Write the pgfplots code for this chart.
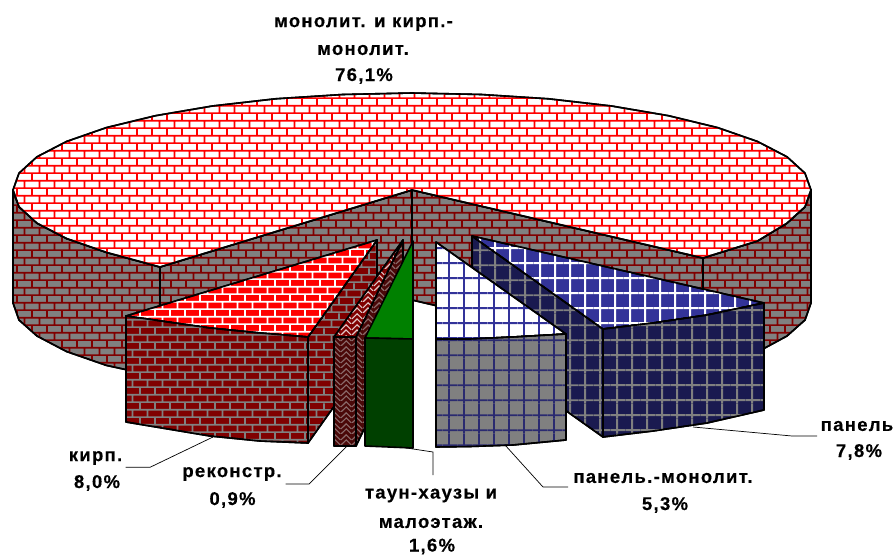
\documentclass[border=0pt]{standalone}
\usepackage{fontspec}
\setmainfont{Liberation Sans}
\newfontfamily\lab[LetterSpace=7,BoldFont={Liberation Sans Bold},BoldFeatures={FakeBold=0.4}]{Liberation Sans}
\usepackage{pgfplots}
\pgfplotsset{compat=1.18}
\usetikzlibrary{patterns}
\pgfdeclarepatternformonly{mybricks}{\pgfqpoint{0pt}{0pt}}{\pgfqpoint{15.42pt}{15.34pt}}{\pgfqpoint{15.42pt}{15.34pt}}{%
  \pgfsetlinewidth{1.8pt}%
  \pgfpathmoveto{\pgfqpoint{0pt}{0.8pt}}\pgfpathlineto{\pgfqpoint{15.42pt}{0.8pt}}%
  \pgfpathmoveto{\pgfqpoint{0pt}{8.47pt}}\pgfpathlineto{\pgfqpoint{15.42pt}{8.47pt}}%
  \pgfpathmoveto{\pgfqpoint{9.77pt}{0.8pt}}\pgfpathlineto{\pgfqpoint{9.77pt}{8.47pt}}%
  \pgfpathmoveto{\pgfqpoint{2.06pt}{8.47pt}}\pgfpathlineto{\pgfqpoint{2.06pt}{15.34pt}}%
  \pgfpathmoveto{\pgfqpoint{2.06pt}{0pt}}\pgfpathlineto{\pgfqpoint{2.06pt}{0.8pt}}%
  \pgfusepath{stroke}}
\pgfdeclarepatternformonly{mygrid}{\pgfqpoint{0pt}{0pt}}{\pgfqpoint{15.3pt}{15.3pt}}{\pgfqpoint{15.3pt}{15.3pt}}{%
  \pgfsetlinewidth{2pt}%
  \pgfpathmoveto{\pgfqpoint{6.3pt}{0pt}}\pgfpathlineto{\pgfqpoint{6.3pt}{15.3pt}}%
  \pgfpathmoveto{\pgfqpoint{0pt}{2.9pt}}\pgfpathlineto{\pgfqpoint{15.3pt}{2.9pt}}%
  \pgfusepath{stroke}}
\pgfdeclarepatternformonly{myweave}{\pgfqpoint{0pt}{0pt}}{\pgfqpoint{11pt}{11pt}}{\pgfqpoint{11pt}{11pt}}{%
  \pgfsetlinewidth{1.2pt}%
  \pgfpathmoveto{\pgfqpoint{0pt}{0pt}}\pgfpathlineto{\pgfqpoint{5.5pt}{5.5pt}}\pgfpathlineto{\pgfqpoint{11pt}{0pt}}%
  \pgfpathmoveto{\pgfqpoint{0pt}{5.5pt}}\pgfpathlineto{\pgfqpoint{5.5pt}{11pt}}\pgfpathlineto{\pgfqpoint{11pt}{5.5pt}}%
  \pgfusepath{stroke}}
\definecolor{gr}{HTML}{808080}
\definecolor{dred}{HTML}{800000}
\definecolor{brightred}{HTML}{FF0000}
\definecolor{ngreen}{HTML}{008000}
\definecolor{dgreen}{HTML}{004000}
\definecolor{blu}{HTML}{333399}
\definecolor{navy}{HTML}{1A1A50}
\definecolor{gridblue}{HTML}{2A2A70}
\definecolor{wtop}{HTML}{800000}
\definecolor{wside}{HTML}{4A0808}
\definecolor{wline}{HTML}{8A6A6A}
\definecolor{wtopline}{HTML}{E0C8C8}
\tikzset{
  face/.style n args={3}{draw=black,line width=1.6pt,line join=round,fill=#1,
     postaction={pattern=#2,pattern color=#3}},
  solidface/.style={draw=black,line width=1.6pt,line join=round,fill=#1},
  leader/.style={draw=black,line width=0.7pt,no markers},
  lbl/.style={font=\lab\fontsize{18.5}{20}\selectfont\bfseries,anchor=center,inner sep=0pt}
}
\begin{document}
\begin{tikzpicture}
\begin{axis}[
  scale only axis,width=895pt,height=553pt,
  xmin=0,xmax=895,ymin=0,ymax=553,y dir=reverse,
  hide axis,clip=false,no markers]
\path (axis cs:0,0) rectangle (axis cs:895,553);
% large slice: walls
\addplot[face={gr}{mybricks}{dred}] coordinates {(13,190)(13,303)(19,320)(37,336)(66.5,351.5)(106.4,365.4)(160,377)(160,267)(106.4,252.4)(66.5,238.5)(37,223.2)(19,206.8)} -- cycle;
\addplot[face={gr}{mybricks}{dred}] coordinates {(811,190)(811,303)(805,320)(787,336)(757.5,352)(703,368)(703,258)(757.5,241)(787,223.2)(805,206.8)} -- cycle;
\addplot[face={gr}{mybricks}{dred}] coordinates {(412,190)(160,267)(160,377)(412,300)} -- cycle;
\addplot[face={gr}{mybricks}{dred}] coordinates {(412,190)(703,258)(703,368)(412,300)} -- cycle;
% large slice: top
\addplot[face={white}{mybricks}{brightred}] coordinates {(412,190)(160,267)(106.4,252.4)(66.5,238.5)(37,223.2)(19,206.8)(13,190)(19,173.2)(37,156.8)(66.5,141.5)(106.4,127.6)(155.5,115.7)(212.5,106)(275.5,98.8)(342.7,94.5)(412,93)(481.3,94.5)(548.5,98.8)(611.5,106)(668.5,115.7)(717.6,127.6)(757.5,141.5)(787,156.8)(805,173.2)(811,190)(805,206.8)(787,223.2)(757.5,241)(703,258)} -- cycle;
% kirp
\addplot[face={dred}{mybricks}{gr}] coordinates {(308,337)(377,240)(377,346)(308,443)} -- cycle;
\addplot[face={brightred}{mybricks}{white}] coordinates {(377,240)(126,316)(210,328)(260,333)(308,337)} -- cycle;
\addplot[face={dred}{mybricks}{gr}] coordinates {(126,316)(210,328)(260,333)(308,337)(308,443)(260,441)(210,436)(126,422)} -- cycle;
% rekonstr
\addplot[face={wside}{myweave}{wline}] coordinates {(356,337)(403,240)(403,348)(356,446)} -- cycle;
\addplot[face={wtop}{myweave}{wtopline}] coordinates {(403,240)(334,337)(356,337)} -- cycle;
\addplot[face={wside}{myweave}{wline}] coordinates {(334,337)(356,337)(356,446)(334,446)} -- cycle;
% town houses
\addplot[solidface={ngreen}] coordinates {(413,241)(365,338)(413,339)} -- cycle;
\addplot[solidface={dgreen}] coordinates {(365,338)(413,339)(413,448)(365,446)} -- cycle;
% panel
\addplot[face={navy}{mygrid}{gr}] coordinates {(472,236)(603,329)(603,437)(472,344)} -- cycle;
\addplot[face={blu}{mygrid}{white}] coordinates {(472,236)(764,303)(707,315)(653,323)(603,329)} -- cycle;
\addplot[face={navy}{mygrid}{gr}] coordinates {(603,329)(653,323)(707,315)(764,303)(764,410)(707,423)(653,431)(603,437)} -- cycle;
% panel-monolit
\addplot[face={white}{mygrid}{blu}] coordinates {(436,242)(566,334)(513,337)(470,339)(436,339)} -- cycle;
\addplot[face={gr}{mygrid}{gridblue}] coordinates {(436,339)(470,339)(513,337)(566,334)(566,440)(513,445)(470,446.5)(436,447)} -- cycle;
% leaders
\addplot[leader] coordinates {(125.7,467.3)(150,467.3)(213,437)};
\addplot[leader] coordinates {(285.7,484)(309,484)(347,446)};
\addplot[leader] coordinates {(400,447)(433,452)(433,475)};
\addplot[leader] coordinates {(505,445)(543,487)(568,487)};
\addplot[leader] coordinates {(693,427)(792,436)(817,436)};
% labels
\node[lbl] at (axis cs:363.5,24) {монолит. и кирп.-};
\node[lbl] at (axis cs:363,50) {монолит.};
\node[lbl] at (axis cs:364,76) {76,1\%};
\node[lbl] at (axis cs:95.5,458) {кирп.};
\node[lbl] at (axis cs:97,483) {8,0\%};
\node[lbl] at (axis cs:232,474) {реконстр.};
\node[lbl] at (axis cs:232.5,500) {0,9\%};
\node[lbl] at (axis cs:431,495.5) {таун-хаузы и};
\node[lbl] at (axis cs:431,523) {малоэтаж.};
\node[lbl] at (axis cs:432,546.5) {1,6\%};
\node[lbl] at (axis cs:857,426) {панель};
\node[lbl] at (axis cs:859,452) {7,8\%};
\node[lbl] at (axis cs:663,478) {панель.-монолит.};
\node[lbl] at (axis cs:665,505) {5,3\%};
\end{axis}
\end{tikzpicture}
\end{document}
